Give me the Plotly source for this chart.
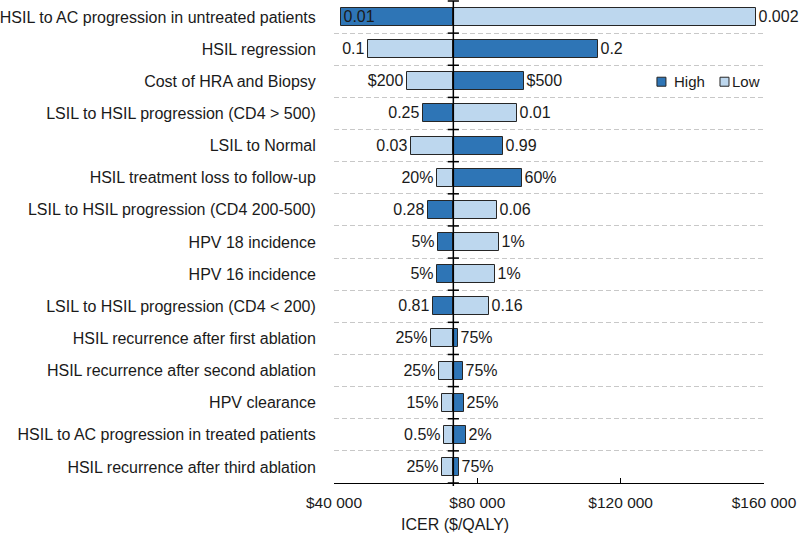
import plotly.graph_objects as go

categories = [
    "HSIL to AC progression in untreated patients",
    "HSIL regression",
    "Cost of HRA and Biopsy",
    "LSIL to HSIL progression (CD4 > 500)",
    "LSIL to Normal",
    "HSIL treatment loss to follow-up",
    "LSIL to HSIL progression (CD4 200-500)",
    "HPV 18 incidence",
    "HPV 16 incidence",
    "LSIL to HSIL progression (CD4 < 200)",
    "HSIL recurrence after first ablation",
    "HSIL recurrence after second ablation",
    "HPV clearance",
    "HSIL to AC progression in treated patients",
    "HSIL recurrence after third ablation",
]
BASE = 73300
high_icer = [41870, 113770, 93030, 64930, 87080, 92380, 66330, 69110, 68660, 67720,
             74520, 75920, 76370, 76760, 74890]
low_icer = [157780, 49580, 60290, 91160, 61490, 68840, 85400, 86130, 84930, 83350,
            67070, 69300, 70230, 70790, 70230]
high_labels = ["0.01", "0.2", "$500", "0.25", "0.99", "60%", "0.28", "5%", "5%", "0.81",
               "75%", "75%", "25%", "2%", "75%"]
low_labels = ["0.002", "0.1", "$200", "0.01", "0.03", "20%", "0.06", "1%", "1%", "0.16",
              "25%", "25%", "15%", "0.5%", "25%"]
x_ticks = [40000, 80000, 120000, 160000]
x_ticktext = ["$40 000", "$80 000", "$120 000", "$160 000"]
series_names = ["High", "Low"]

DARK = "#2E75B6"
LIGHT = "#BDD7EE"
EDGE = "#262626"
TXT = "#1a1a1a"
FONT = "Liberation Sans, Arial, sans-serif"

ypos = list(range(len(categories)))
high_pos = ["inside" if i == 0 else "outside" for i in range(len(categories))]

fig = go.Figure()
fig.add_trace(go.Bar(
    name="High", y=ypos, x=[v - BASE for v in high_icer], base=BASE,
    orientation="h", width=0.56, showlegend=False,
    marker=dict(color=DARK, line=dict(color=EDGE, width=1)),
    text=high_labels, textposition=high_pos, insidetextanchor="end",
    textfont=dict(size=16, color=TXT, family=FONT),
    insidetextfont=dict(size=16, color=TXT, family=FONT),
    outsidetextfont=dict(size=16, color=TXT, family=FONT),
    cliponaxis=False, constraintext="none", hoverinfo="skip",
))
fig.add_trace(go.Bar(
    name="Low", y=ypos, x=[v - BASE for v in low_icer], base=BASE,
    orientation="h", width=0.56, showlegend=False,
    marker=dict(color=LIGHT, line=dict(color=EDGE, width=1)),
    text=low_labels, textposition="outside",
    textfont=dict(size=16, color=TXT, family=FONT),
    cliponaxis=False, constraintext="none", hoverinfo="skip",
))
# legend symbols (each in its own legend so spacing can match), labels as annotations
for nm, col, lg in ((series_names[0], DARK, "legend"), (series_names[1], LIGHT, "legend2")):
    fig.add_trace(go.Scatter(
        x=[None], y=[None], mode="markers", name="", legend=lg,
        marker=dict(symbol="square", size=9, color=col, line=dict(color=EDGE, width=1)),
    ))
# small tick marks on the centre line at category boundaries
bounds = [i - 0.5 for i in range(len(categories) + 1)]
fig.add_trace(go.Scatter(
    x=[BASE] * len(bounds), y=bounds, mode="markers",
    marker=dict(symbol="line-ew", size=8, line=dict(color="black", width=1.5)),
    showlegend=False, hoverinfo="skip", cliponaxis=False,
))
fig.add_shape(type="line", xref="x", yref="paper", x0=BASE, x1=BASE, y0=-0.006, y1=1,
              line=dict(color="black", width=1.5), layer="above")

LEG_Y = 0.832
legend_common = dict(orientation="h", y=LEG_Y, xanchor="left", yanchor="middle",
                     bgcolor="rgba(0,0,0,0)", font=dict(size=15, color=TXT),
                     itemwidth=30, tracegroupgap=0)

fig.update_layout(
    width=800, height=534,
    margin=dict(l=334, r=36, t=1, b=51),
    plot_bgcolor="white", paper_bgcolor="white",
    barmode="overlay", bargap=0,
    font=dict(family=FONT, size=16, color=TXT),
    showlegend=True,
    legend=dict(x=0.715, **legend_common),
    legend2=dict(x=0.8616, **legend_common),
    xaxis=dict(range=[40000, 160000], tickvals=x_ticks, ticktext=x_ticktext,
               showgrid=False, zeroline=False, showline=True, linecolor="black",
               linewidth=1, ticks="inside", ticklen=5, tickcolor="black",
               tickfont=dict(size=15.5, color=TXT), ticklabelstandoff=5),
    yaxis=dict(range=[len(categories) - 0.5, -0.5], tickvals=ypos, ticktext=categories,
               showgrid=False, zeroline=False, showline=False,
               ticks="outside", ticklen=14, tickcolor="rgba(0,0,0,0)",
               tickfont=dict(size=16, color=TXT),
               minor=dict(tickvals=bounds[:-1], showgrid=True, gridcolor="#c8c8c8",
                          griddash="5px,3px", gridwidth=1, ticks="")),
    annotations=[
        dict(text="ICER ($/QALY)", xref="paper", yref="paper",
             x=0.281, y=0, yshift=-41, xanchor="center", yanchor="middle",
             showarrow=False, font=dict(size=16, color=TXT)),
        dict(text=series_names[0], xref="paper", yref="paper", x=0.786, y=LEG_Y,
             xanchor="left", yanchor="middle", showarrow=False,
             font=dict(size=15, color=TXT)),
        dict(text=series_names[1], xref="paper", yref="paper", x=0.921, y=LEG_Y,
             xanchor="left", yanchor="middle", showarrow=False,
             font=dict(size=15, color=TXT)),
    ],
)
fig.write_html("out.html", post_script="document.body.style.margin='0px';",
               config={"displayModeBar": False})
